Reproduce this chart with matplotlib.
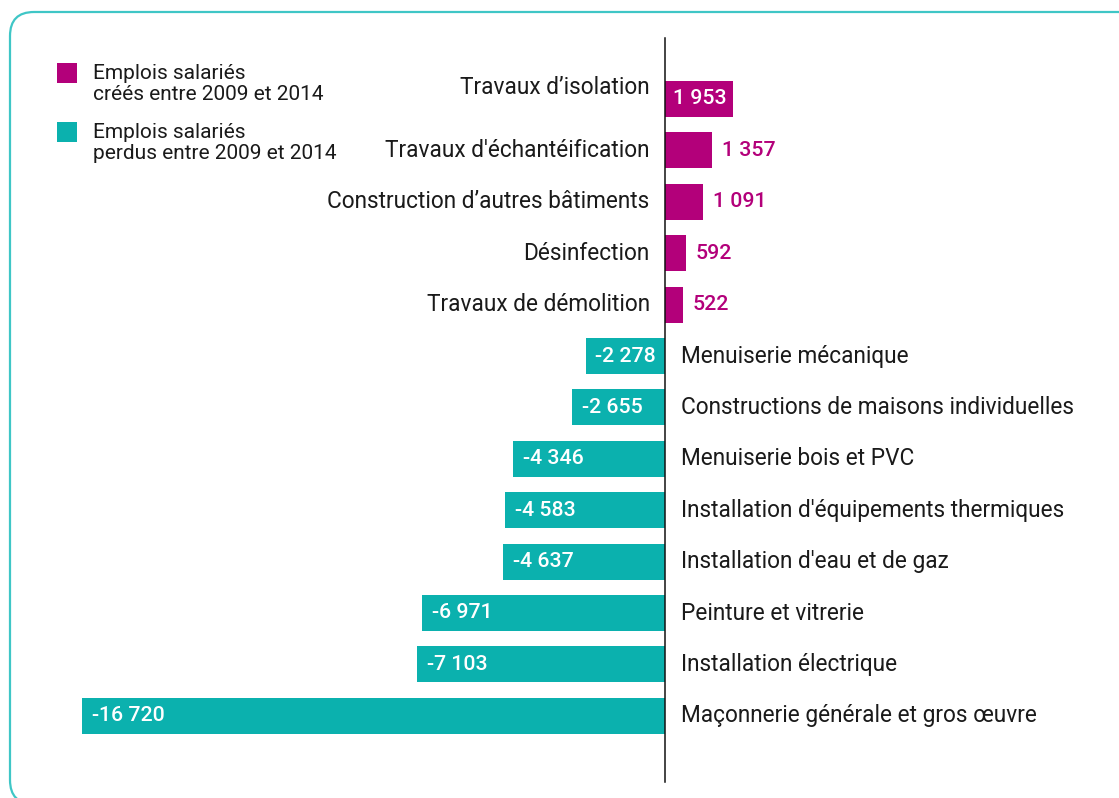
import matplotlib
matplotlib.use("Agg")
import matplotlib.pyplot as plt
from matplotlib.patches import FancyBboxPatch, Rectangle
from matplotlib.transforms import IdentityTransform

categories = [
    "Travaux d\u2019isolation",
    "Travaux d'\u00e9chant\u00e9ification",
    "Construction d\u2019autres b\u00e2timents",
    "D\u00e9sinfection",
    "Travaux de d\u00e9molition",
    "Menuiserie m\u00e9canique",
    "Constructions de maisons individuelles",
    "Menuiserie bois et PVC",
    "Installation d'\u00e9quipements thermiques",
    "Installation d'eau et de gaz",
    "Peinture et vitrerie",
    "Installation \u00e9lectrique",
    "Ma\u00e7onnerie g\u00e9n\u00e9rale et gros \u0153uvre",
]
values = [1953, 1357, 1091, 592, 522, -2278, -2655, -4346, -4583, -4637, -6971, -7103, -16720]
value_labels = ["1 953", "1 357", "1 091", "592", "522", "-2 278", "-2 655", "-4 346",
                "-4 583", "-4 637", "-6 971", "-7 103", "-16 720"]
legend_labels = ["Emplois salari\u00e9s\ncr\u00e9\u00e9s entre 2009 et 2014",
                 "Emplois salari\u00e9s\nperdus entre 2009 et 2014"]

MAGENTA = "#B3007A"
TEAL = "#0BB1AE"
BORDER = "#3FC6C6"
TXT = "#1a1a1a"

plt.rcParams['font.family'] = ['Roboto', 'DejaVu Sans']

W, H = 1119, 798
fig = plt.figure(figsize=(W / 100, H / 100), dpi=100)
ax = fig.add_axes([0, 0, 1, 1])

zero_px = 665.0
px_per_unit = 583.0 / 16720.0
row0_px = 99.0
row_step = 51.4
ax.set_xlim(-zero_px / px_per_unit, (W - zero_px) / px_per_unit)
ax.set_ylim((H - row0_px) / row_step, -row0_px / row_step)
ax.axis("off")

ys = list(range(len(categories)))
colors = [MAGENTA if v > 0 else TEAL for v in values]
ax.barh(ys, values, height=0.70, color=colors, zorder=2)

# vertical zero line
ax.plot([0, 0], [(38 - row0_px) / row_step, (782 - row0_px) / row_step],
        color="#111111", lw=1.1, zorder=3)

fs = 16.3
vfs = 15.3
for i, (cat, v, lab) in enumerate(zip(categories, values, value_labels)):
    if v > 0:
        yoff = 12 if i == 0 else 0
        ax.annotate(cat, (0, i), xytext=(-11, yoff * 0.72), textcoords="offset points",
                    ha="right", va="center", fontsize=fs, color=TXT)
        if v > 1500:
            ax.annotate(lab, (0, i), xytext=(6, 0), textcoords="offset points",
                        ha="left", va="center", fontsize=vfs, color="white", fontweight="medium", zorder=4)
        else:
            ax.annotate(lab, (v, i), xytext=(7, 0), textcoords="offset points",
                        ha="left", va="center", fontsize=vfs, color=MAGENTA, fontweight="medium", zorder=4)
    else:
        ax.annotate(cat, (0, i), xytext=(11.5, 0), textcoords="offset points",
                    ha="left", va="center", fontsize=fs, color=TXT)
        ax.annotate(lab, (v, i), xytext=(7, 0), textcoords="offset points",
                    ha="left", va="center", fontsize=vfs, color="white", fontweight="medium", zorder=4)

# legend
for k, (lab, col) in enumerate(zip(legend_labels, [MAGENTA, TEAL])):
    top = 63 + 59 * k
    fig.patches.append(Rectangle((57, H - top - 20), 20, 20, transform=IdentityTransform(),
                                 facecolor=col, edgecolor="none"))
    fig.text(93 / W, 1 - (top + 1) / H, lab, ha="left", va="top", fontsize=15, color=TXT,
             linespacing=1.16)

# rounded border
border = FancyBboxPatch((10, -6), 1140, H - 12 + 6, boxstyle="round,pad=0,rounding_size=24",
                        transform=IdentityTransform(), facecolor="none", edgecolor=BORDER, lw=1.6)
fig.patches.append(border)

fig.savefig("out.png", dpi=100)
